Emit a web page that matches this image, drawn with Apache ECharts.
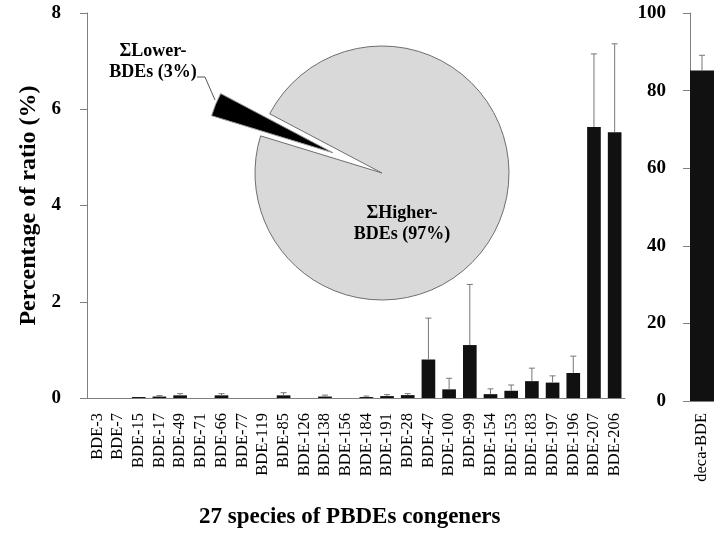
<!DOCTYPE html>
<html>
<head>
<meta charset="utf-8">
<script src="https://cdn.jsdelivr.net/npm/echarts@6/dist/echarts.min.js"></script>
<style>html,body{margin:0;padding:0;background:#fff;}#chart{width:714px;height:533px;}</style>
</head>
<body>
<div id="chart"></div>
<script>
const categories = ['BDE-3','BDE-7','BDE-15','BDE-17','BDE-49','BDE-71','BDE-66','BDE-77','BDE-119','BDE-85','BDE-126','BDE-138','BDE-156','BDE-184','BDE-191','BDE-28','BDE-47','BDE-100','BDE-99','BDE-154','BDE-153','BDE-183','BDE-197','BDE-196','BDE-207','BDE-206'];
const values = [0,0,0.02,0.03,0.055,0,0.055,0,0,0.055,0,0.03,0,0.02,0.04,0.06,0.80,0.18,1.10,0.08,0.15,0.35,0.32,0.52,5.63,5.52];
const errTop = [null,null,null,0.05,0.09,null,0.09,null,null,0.11,null,0.06,null,0.04,0.07,0.09,1.66,0.41,2.36,0.19,0.27,0.62,0.46,0.87,7.15,7.36];
const decaCategories = ['deca-BDE'];
const decaValues = [85.2];
const decaErrTop = [89.1];
const pieNames = ['ΣLower-\nBDEs', 'ΣHigher-\nBDEs'];
const pieValues = [3, 97];
const yTitle = 'Percentage of ratio (%)';
const xTitle = '27 species of PBDEs congeners';

const FONT = 'Liberation Serif, Times New Roman, serif';
const AX = '#808080';
const PIE_CENTER = [382, 173];
const PIE_R = 127;
const START = 163;
const EXPLODE = 53;

function errRender(params, api) {
  const hi = api.value(2);
  if (hi == null || isNaN(hi)) return;
  const x = api.value(0);
  const p1 = api.coord([x, api.value(1)]);
  const p2 = api.coord([x, hi]);
  return {
    type: 'group',
    children: [
      {type: 'line', shape: {x1: p1[0], y1: p1[1], x2: p2[0], y2: p2[1]}, style: {stroke: '#777', lineWidth: 1}},
      {type: 'line', shape: {x1: p2[0] - 3, y1: p2[1], x2: p2[0] + 3, y2: p2[1]}, style: {stroke: '#777', lineWidth: 1}}
    ]
  };
}

// exploded slice: shift centre along the slice's mid angle
const total = pieValues.reduce((a, b) => a + b, 0);
const midAngle = (START - 360 * pieValues[0] / total / 2) * Math.PI / 180;
const explodedCenter = [PIE_CENTER[0] + EXPLODE * Math.cos(midAngle), PIE_CENTER[1] - EXPLODE * Math.sin(midAngle)];

const labelStyle = {
  show: true, formatter: p => p.name + ' (' + p.value + '%)',
  fontFamily: FONT, fontWeight: 'bold', fontSize: 18, lineHeight: 21, color: '#000'
};

const chart = echarts.init(document.getElementById('chart'), null, {renderer: 'canvas'});
const option = {
  backgroundColor: '#fff',
  animation: false,
  title: {
    text: xTitle, left: 194, top: 501,
    textStyle: {fontFamily: FONT, fontWeight: 'bold', fontSize: 23, color: '#000'}
  },
  grid: [
    {left: 87, right: 89, top: 13, bottom: 135},
    {left: 690, width: 34, top: 13, bottom: 132}
  ],
  xAxis: [
    {
      type: 'category', gridIndex: 0, data: categories,
      axisLine: {lineStyle: {color: AX}},
      axisTick: {length: 5, lineStyle: {color: AX}},
      axisLabel: {interval: 0, rotate: 90, margin: 15, fontFamily: FONT, fontSize: 16.5, color: '#000'}
    },
    {
      type: 'category', gridIndex: 1, data: decaCategories,
      axisLine: {lineStyle: {color: AX}},
      axisTick: {show: false},
      axisLabel: {interval: 0, rotate: 90, margin: 12, fontFamily: FONT, fontSize: 16.5, color: '#000'}
    }
  ],
  yAxis: [
    {
      type: 'value', gridIndex: 0, min: 0, max: 8, interval: 2,
      name: yTitle, nameLocation: 'middle', nameGap: 45,
      nameTextStyle: {fontFamily: FONT, fontWeight: 'bold', fontSize: 24, color: '#000'},
      axisLine: {show: true, lineStyle: {color: AX}},
      axisTick: {show: true, length: 7, lineStyle: {color: AX}},
      splitLine: {show: false},
      axisLabel: {margin: 26, fontFamily: FONT, fontWeight: 'bold', fontSize: 19, color: '#000'}
    },
    {
      type: 'value', gridIndex: 1, min: 0, max: 100, interval: 20,
      axisLine: {show: true, lineStyle: {color: AX}},
      axisTick: {show: true, length: 7, lineStyle: {color: AX}},
      splitLine: {show: false},
      axisLabel: {margin: 24, fontFamily: FONT, fontWeight: 'bold', fontSize: 19, color: '#000'}
    }
  ],
  series: [
    {
      type: 'bar', xAxisIndex: 0, yAxisIndex: 0, data: values, barWidth: '66%',
      itemStyle: {color: '#111'}, emphasis: {disabled: true}
    },
    {
      type: 'custom', xAxisIndex: 0, yAxisIndex: 0, renderItem: errRender, z: 3,
      data: categories.map((c, i) => [i, values[i], errTop[i] == null ? NaN : errTop[i]])
    },
    {
      type: 'bar', xAxisIndex: 1, yAxisIndex: 1, data: decaValues, barWidth: 24,
      itemStyle: {color: '#111'}, emphasis: {disabled: true}
    },
    {
      type: 'custom', xAxisIndex: 1, yAxisIndex: 1, renderItem: errRender, z: 3,
      data: decaCategories.map((c, i) => [i, decaValues[i], decaErrTop[i]])
    },
    {
      // main pie: ΣHigher-BDEs slice
      type: 'pie', center: PIE_CENTER, radius: PIE_R, startAngle: START, clockwise: true,
      z: 5, silent: true, emphasis: {disabled: true},
      label: labelStyle,
      labelLine: {show: false},
      labelLayout: () => ({x: 402, y: 224, align: 'center', verticalAlign: 'middle'}),
      data: [
        {name: pieNames[0], value: pieValues[0],
          itemStyle: {color: 'rgba(0,0,0,0)', borderWidth: 0}, label: {show: false}},
        {name: pieNames[1], value: pieValues[1],
          itemStyle: {color: '#d9d9d9', borderColor: '#6e6e6e', borderWidth: 1}}
      ]
    },
    {
      // exploded ΣLower-BDEs slice
      type: 'pie', center: explodedCenter, radius: PIE_R, startAngle: START, clockwise: true,
      z: 6, silent: true, emphasis: {disabled: true},
      label: labelStyle,
      labelLine: {show: true, lineStyle: {color: '#555', width: 1}},
      labelLayout: () => ({x: 153, y: 62, align: 'center', verticalAlign: 'middle',
        labelLinePoints: [[197, 77], [205, 77], [215, 100]]}),
      data: [
        {name: pieNames[0], value: pieValues[0],
          itemStyle: {color: '#000', borderColor: '#999', borderWidth: 1}},
        {name: pieNames[1], value: pieValues[1],
          itemStyle: {color: 'rgba(0,0,0,0)', borderWidth: 0}, label: {show: false}, labelLine: {show: false}}
      ]
    }
  ]
};
chart.setOption(option);
</script>
</body>
</html>
